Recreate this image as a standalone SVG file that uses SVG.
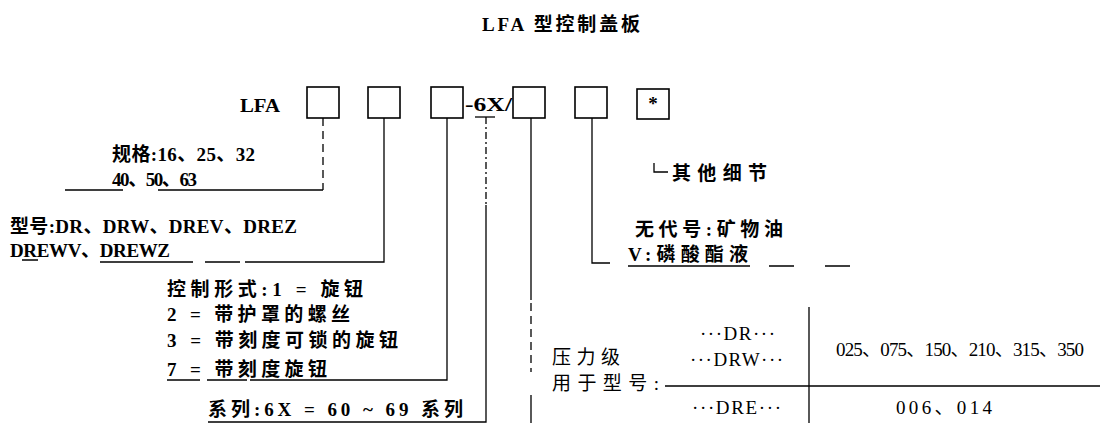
<svg xmlns="http://www.w3.org/2000/svg" width="1104" height="423" viewBox="0 0 1104 423">
<style>
text{font-family:"Liberation Serif","Noto Sans CJK SC",serif;font-size:19px;fill:#000;font-weight:bold}
.n{font-weight:normal}
.box{fill:none;stroke:#000;stroke-width:1.6}
.ln{fill:none;stroke:#000;stroke-width:1.3}
.dash{fill:none;stroke:#000;stroke-width:1.3;stroke-dasharray:8 5}
.dd{fill:none;stroke:#000;stroke-width:1.3;stroke-dasharray:7 3 2 3}
</style>
<rect width="1104" height="423" fill="#fff"/>
<text id="title" x="482" y="31" font-size="20" textLength="158" lengthAdjust="spacing">LFA 型控制盖板</text>
<g id="code">
<text x="240" y="112" textLength="40" lengthAdjust="spacingAndGlyphs">LFA</text>
<text x="465" y="111" textLength="47" lengthAdjust="spacingAndGlyphs">-6X/</text>
</g>
<g id="box1"><rect class="box" x="307" y="87" width="32" height="31"/></g>
<g id="box2"><rect class="box" x="368" y="87" width="32" height="31"/></g>
<g id="box3"><rect class="box" x="431" y="87" width="32" height="31"/></g>
<g id="box4"><rect class="box" x="513" y="87" width="32" height="31"/></g>
<g id="box5"><rect class="box" x="575" y="87" width="32" height="31"/></g>
<g id="box6"><rect class="box" x="637" y="89" width="32" height="30"/><text x="653" y="110" font-size="15" text-anchor="middle">*</text></g>
<g id="connectors">
<path class="dash" d="M323,118 V190"/>
<path class="ln" d="M65,190 H123 M158,190 H323"/>
<path class="ln" d="M384,118 V262 H245 M240,262 H205 M193,262 H100 M22,260 H38"/>
<path class="ln" d="M447,118 V380 H250 M247,380 H207 M200,380 H167"/>
<path class="ln" d="M475,117 H495"/>
<path class="dd" d="M486,117 V205"/>
<path class="ln" d="M486,205 V422 H208"/>
<path class="ln" d="M531,118 V300 M531,395 V423"/>
<path class="dash" d="M531,303 V372"/>
<path class="ln" d="M592,118 V263 H610"/>
<path class="ln" d="M654,163 V172 H668"/>
<path class="ln" d="M628,266 H750 M769,266 H794 M825,266 H850"/>
<path class="ln" d="M809,307 V423 M665,386 H1100"/>
</g>
<g id="size"><text x="112" y="161" textLength="143" lengthAdjust="spacing">规格:16、25、32</text><text x="112" y="186" textLength="85" lengthAdjust="spacing">40、50、63</text></g>
<g id="type"><text x="10" y="233" textLength="287" lengthAdjust="spacing">型号:DR、DRW、DREV、DREZ</text><text x="10" y="257" textLength="160" lengthAdjust="spacing">DREWV、DREWZ</text></g>
<g id="control">
<text x="167" y="296" textLength="196" lengthAdjust="spacing">控制形式:1 = 旋钮</text>
<text x="167" y="321" textLength="183" lengthAdjust="spacing">2 = 带护罩的螺丝</text>
<text x="167" y="347" textLength="231" lengthAdjust="spacing">3 = 带刻度可锁的旋钮</text>
<text x="167" y="376" textLength="160" lengthAdjust="spacing">7 = 带刻度旋钮</text>
</g>
<g id="series"><text x="208" y="416" textLength="255" lengthAdjust="spacing">系列:6X = 60 ~ 69 系列</text></g>
<g id="other"><text x="672" y="180" textLength="95" lengthAdjust="spacing">其他细节</text></g>
<g id="fluid"><text x="635" y="236" textLength="148" lengthAdjust="spacing">无代号:矿物油</text><text x="628" y="261" textLength="120" lengthAdjust="spacing">V:磷酸酯液</text></g>
<g id="pressure">
<text class="n" x="552" y="364" textLength="68" lengthAdjust="spacing">压力级</text>
<text class="n" x="552" y="390" textLength="107" lengthAdjust="spacing">用于型号:</text>
<text class="n" x="700" y="340" textLength="75" lengthAdjust="spacing">···DR···</text>
<text class="n" x="690" y="366" textLength="93" lengthAdjust="spacing">···DRW···</text>
<text class="n" x="692" y="414" textLength="89" lengthAdjust="spacing">···DRE···</text>
<text class="n" x="836" y="356" textLength="248" lengthAdjust="spacing">025、075、150、210、315、350</text>
<text class="n" x="896" y="414" textLength="96" lengthAdjust="spacing">006、014</text>
</g>
</svg>
